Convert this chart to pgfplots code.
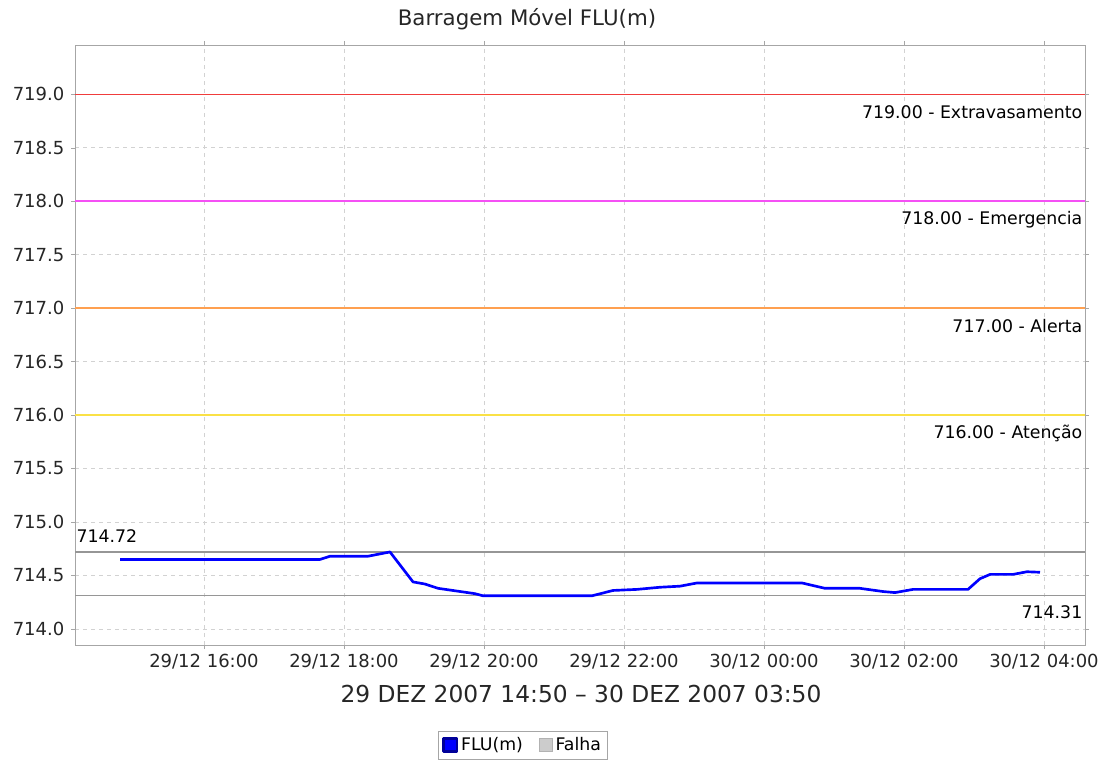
\documentclass[border=0pt]{standalone}
\usepackage{fontspec}
\setmainfont{DejaVu Sans}
\usepackage{pgfplots}
\pgfplotsset{compat=1.18}
\definecolor{lred}{RGB}{240,60,60}
\definecolor{lmag}{RGB}{245,80,245}
\definecolor{lora}{RGB}{255,160,80}
\definecolor{lyel}{RGB}{250,225,70}
\definecolor{lgrey}{RGB}{150,150,150}
\begin{document}
\begin{tikzpicture}
\begin{axis}[
  at={(56.25pt,87pt)}, anchor=south west,
  scale only axis, width=757.5pt, height=450pt,
  xmin=14.157, xmax=28.586, ymin=713.85, ymax=719.46,
  xtick={16,18,20,22,24,26,28},
  xticklabels={29/12 16:00,29/12 18:00,29/12 20:00,29/12 22:00,30/12 00:00,30/12 02:00,30/12 04:00},
  ytick={714,714.5,715,715.5,716,716.5,717,717.5,718,718.5,719},
  yticklabel style={xshift=-1.5pt, /pgf/number format/.cd, fixed, fixed zerofill, precision=1, 1000 sep={}, assume math mode=true},
  grid=major, grid style={dashed, gray!35, line width=0.5pt},
  axis line style={gray!70},
  tick style={gray!70},
  tick align=outside, major tick length=3pt,
  ticklabel style={font=\fontsize{13.5}{15}\selectfont, text=black!85},
  title={Barragem Móvel FLU(m)},
  title style={at={(0.4475,1.03)}, anchor=center, font=\fontsize{16}{18}\selectfont, text=black!85},
  xlabel={29 DEZ 2007 14:50 – 30 DEZ 2007 03:50},
  xlabel style={at={(axis description cs:0.501,-0.0817)}, anchor=center, font=\fontsize{17.5}{19}\selectfont, text=black!85},
  legend style={at={(0.4436,-0.1667)}, anchor=center, legend columns=2, draw=gray!70, font=\fontsize{13}{15}\selectfont, inner sep=3pt, /tikz/every even column/.append style={column sep=10pt}},
]
\addplot[lred, line width=1pt, forget plot] coordinates {(14.157,719) (28.586,719)};
\addplot[lmag, line width=1pt, forget plot] coordinates {(14.157,718) (28.586,718)};
\addplot[lora, line width=1pt, forget plot] coordinates {(14.157,717) (28.586,717)};
\addplot[lyel, line width=1pt, forget plot] coordinates {(14.157,716) (28.586,716)};
\addplot[lgrey, line width=0.9pt, forget plot] coordinates {(14.157,714.72) (28.586,714.72)};
\addplot[lgrey, line width=0.9pt, forget plot] coordinates {(14.157,714.31) (28.586,714.31)};
\addplot[blue, line width=2pt, line join=round,
  legend image code/.code={\fill[blue, draw=blue!60!black] (0pt,-5pt) rectangle (10pt,5pt);}]
 coordinates {(14.8,714.65) (17.657,714.65) (17.8,714.68) (18.343,714.68) (18.657,714.72) (18.986,714.44) (19.157,714.42) (19.343,714.38) (19.871,714.33) (19.986,714.31) (21.543,714.31) (21.843,714.36) (22.186,714.37) (22.514,714.39) (22.8,714.40) (23.043,714.43) (24.543,714.43) (24.871,714.38) (25.371,714.38) (25.7,714.35) (25.871,714.34) (26.129,714.37) (26.914,714.37) (27.086,714.47) (27.229,714.51) (27.557,714.51) (27.757,714.535) (27.943,714.53)};
\addlegendentry{FLU(m)}
\addlegendimage{legend image code/.code={\fill[gray!40, draw=gray!60] (0pt,-5pt) rectangle (10pt,5pt);}}
\addlegendentry{Falha}
\node[anchor=east, font=\fontsize{13}{15}\selectfont, inner sep=1pt] at (axis cs:28.57,718.83) {719.00 - Extravasamento};
\node[anchor=east, font=\fontsize{13}{15}\selectfont, inner sep=1pt] at (axis cs:28.57,717.83) {718.00 - Emergencia};
\node[anchor=east, font=\fontsize{13}{15}\selectfont, inner sep=1pt] at (axis cs:28.57,716.83) {717.00 - Alerta};
\node[anchor=east, font=\fontsize{13}{15}\selectfont, inner sep=1pt] at (axis cs:28.57,715.83) {716.00 - Atenção};
\node[anchor=west, font=\fontsize{13}{15}\selectfont, inner sep=1pt] at (axis cs:14.157,714.867) {714.72};
\node[anchor=east, font=\fontsize{13}{15}\selectfont, inner sep=1pt] at (axis cs:28.57,714.16) {714.31};
\end{axis}
\pgfresetboundingbox
\useasboundingbox (0,0) rectangle (831.75pt,570.75pt);
\end{tikzpicture}
\end{document}
